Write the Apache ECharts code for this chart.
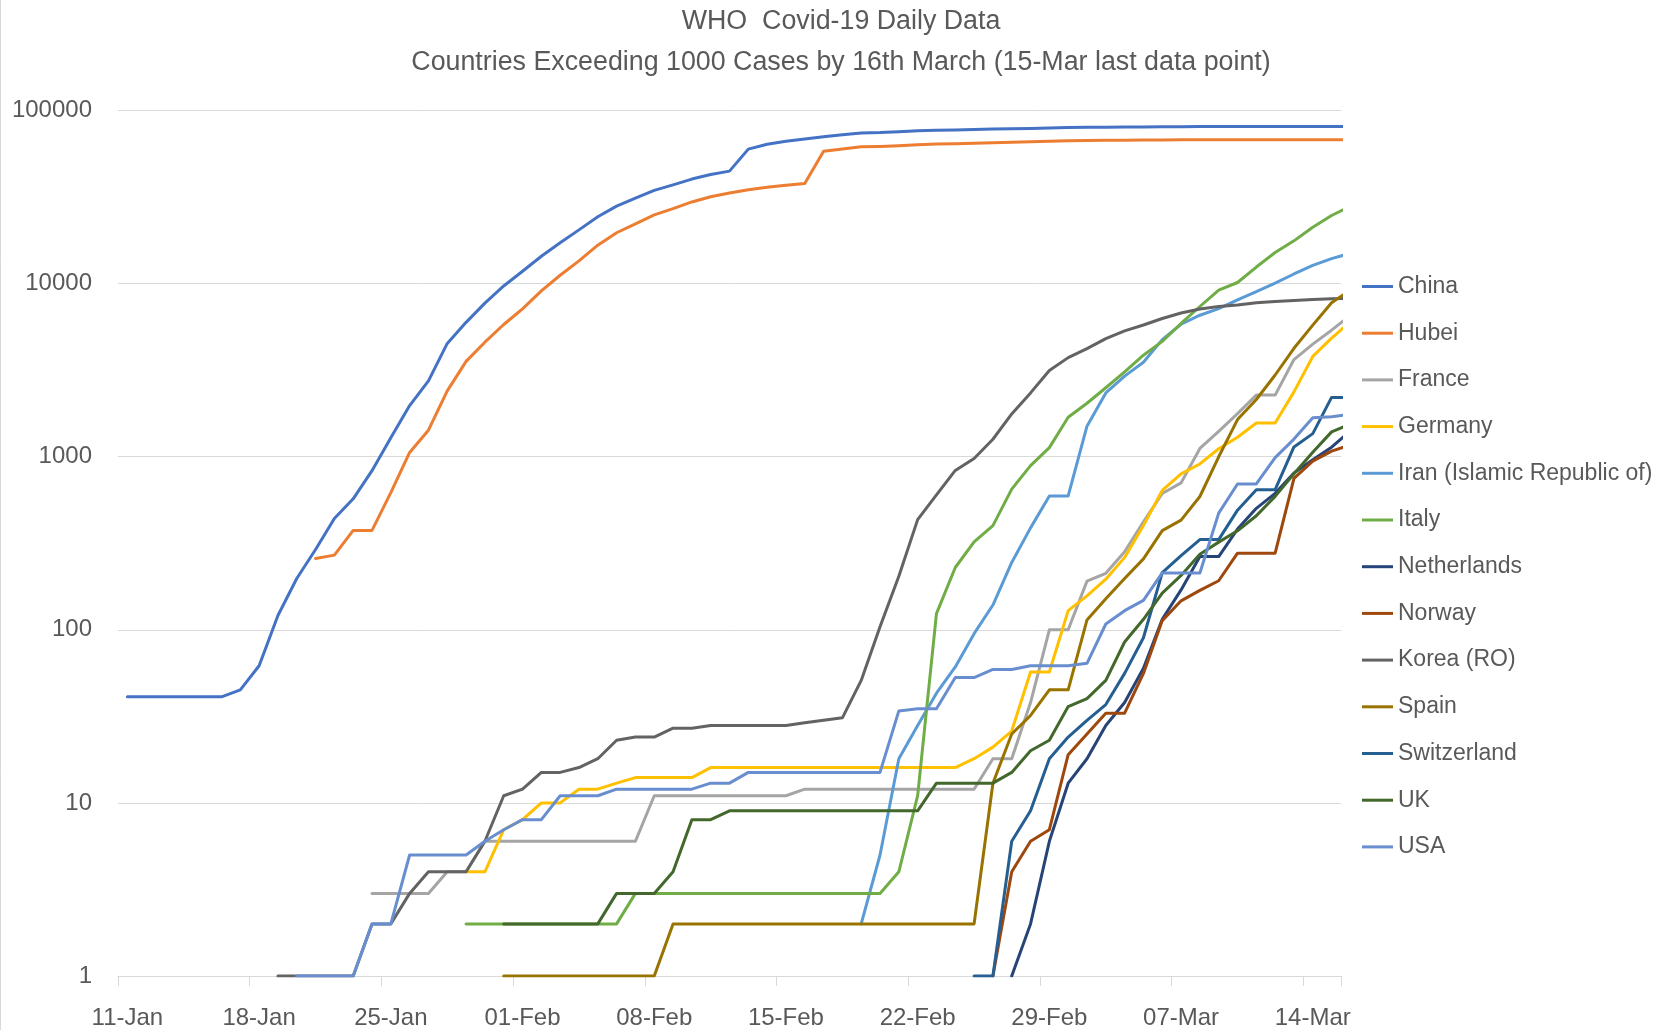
<!DOCTYPE html>
<html>
<head>
<meta charset="utf-8">
<script src="https://cdn.jsdelivr.net/npm/echarts@6/dist/echarts.min.js"></script>
<style>
html,body{margin:0;padding:0;background:#ffffff;}
#chart{width:1671px;height:1030px;}
</style>
</head>
<body>
<div id="chart"></div>
<script>
// ---- axis categories (one per day, 11-Jan .. 15-Mar 2020) ----
const categories = [
 '11-Jan','12-Jan','13-Jan','14-Jan','15-Jan','16-Jan','17-Jan','18-Jan','19-Jan','20-Jan',
 '21-Jan','22-Jan','23-Jan','24-Jan','25-Jan','26-Jan','27-Jan','28-Jan','29-Jan','30-Jan','31-Jan',
 '01-Feb','02-Feb','03-Feb','04-Feb','05-Feb','06-Feb','07-Feb','08-Feb','09-Feb','10-Feb',
 '11-Feb','12-Feb','13-Feb','14-Feb','15-Feb','16-Feb','17-Feb','18-Feb','19-Feb','20-Feb',
 '21-Feb','22-Feb','23-Feb','24-Feb','25-Feb','26-Feb','27-Feb','28-Feb','29-Feb',
 '01-Mar','02-Mar','03-Mar','04-Mar','05-Mar','06-Mar','07-Mar','08-Mar','09-Mar','10-Mar',
 '11-Mar','12-Mar','13-Mar','14-Mar','15-Mar'
];
// the series run one day past the axis end; that last segment is clipped at the plot edge
const dataDates = categories.concat(['16-Mar']);
const yTicks = [1, 10, 100, 1000, 10000, 100000];

// ---- series values (first value belongs to the given start date) ----
const chinaStart = '11-Jan';
const china = [41,41,41,41,41,41,45,62,121,198,291,440,571,830,1287,1975,2744,4515,5974,7711,9692,
 11791,14380,17205,20438,24324,28018,31161,34546,37198,40171,42638,44653,59804,63851,66492,68500,70548,
 72436,74185,74576,75465,76288,76936,77150,77658,78064,78497,78824,79251,
 79824,80026,80151,80270,80409,80552,80651,80695,80735,80754,80778,80793,80813,80824,80844,80860];

const hubeiStart = '21-Jan';
const hubei = [258,270,375,375,620,1058,1423,2400,3554,4586,5806,7153,9074,11177,13522,16678,19665,
 22112,24953,27100,29631,31728,33366,34874,35991,37001,37914,58182,59989,61682,62031,62662,63454,64084,
 64287,64786,65187,65596,65914,66337,66907,67103,67217,67332,67466,67592,67666,67707,67743,67760,67773,
 67781,67786,67790,67794,67798];

const franceStart = '24-Jan';
const france = [3,3,3,3,4,4,6,6,6,6,6,6,6,6,6,11,11,11,11,11,11,11,11,12,12,12,12,12,12,12,12,12,12,
 18,18,38,100,100,191,212,282,420,613,706,1116,1402,1774,2269,2269,3640,4469,5380,6573];

const germanyStart = '29-Jan';
const germany = [4,4,7,8,10,10,12,12,13,14,14,14,14,16,16,16,16,16,16,16,16,16,16,16,16,16,16,
 18,21,26,57,57,129,157,196,262,400,639,795,908,1112,1296,1567,1567,2369,3795,4838,6012];

const iranStart = '19-Feb';
const iran = [2,5,18,28,43,61,95,139,245,388,593,593,1501,2336,2922,3513,4747,5823,6566,7161,8042,
 9000,10075,11364,12729,13938,14991];

const italyStart = '29-Jan';
const italy = [2,2,2,2,2,2,2,2,2,3,3,3,3,3,3,3,3,3,3,3,3,3,3,4,11,124,229,322,400,650,888,1128,
 1689,2036,2502,3089,3858,4636,5883,7375,9172,10149,12462,15113,17660,21157,24747,27980];

const netherlandsStart = '27-Feb';
const netherlands = [1,2,6,13,18,28,38,60,115,170,265,265,382,503,614,804,959,1135,1413];

const norwayStart = '26-Feb';
const norway = [1,4,6,7,19,25,33,33,56,113,147,169,192,277,277,277,750,942,1077,1169];

const koreaStart = '19-Jan';
const korea = [1,1,1,1,1,2,2,3,4,4,4,6,11,12,15,15,16,18,23,24,24,27,27,28,28,28,28,28,29,30,31,
 51,104,204,433,602,833,977,1261,1766,2337,3150,3736,4212,4812,5328,5766,6284,6767,7134,7382,7513,
 7755,7869,7979,8086,8162,8236];

const spainStart = '31-Jan';
const spain = [1,1,1,1,1,1,1,1,1,2,2,2,2,2,2,2,2,2,2,2,2,2,2,2,2,2,13,25,32,45,45,114,151,198,257,
 374,430,589,999,1639,2140,2965,4231,5753,7753,9191];

const switzerlandStart = '25-Feb';
const switzerland = [1,1,6,9,18,24,30,37,56,90,214,268,332,332,491,645,645,1139,1359,2200,2200];

const ukStart = '31-Jan';
const uk = [2,2,2,2,2,2,3,3,3,4,8,8,9,9,9,9,9,9,9,9,9,9,9,13,13,13,13,15,20,23,36,40,51,85,115,163,
 206,273,321,373,456,590,797,1061,1391,1543];

const usaStart = '20-Jan';
const usa = [1,1,1,1,2,2,5,5,5,5,6,7,8,8,11,11,11,12,12,12,12,12,13,13,15,15,15,15,15,15,15,15,
 34,35,35,53,53,59,59,62,62,62,64,108,129,148,213,213,213,472,696,696,987,1264,1678,1700,1760];

// ---- series table built from the arrays above ----
const seriesDefs = [
  ['China', chinaStart, china, '#4472C4'],
  ['Hubei', hubeiStart, hubei, '#ED7D31'],
  ['France', franceStart, france, '#A5A5A5'],
  ['Germany', germanyStart, germany, '#FFC000'],
  ['Iran (Islamic Republic of)', iranStart, iran, '#5B9BD5'],
  ['Italy', italyStart, italy, '#70AD47'],
  ['Netherlands', netherlandsStart, netherlands, '#264478'],
  ['Norway', norwayStart, norway, '#9E480E'],
  ['Korea (RO)', koreaStart, korea, '#636363'],
  ['Spain', spainStart, spain, '#997300'],
  ['Switzerland', switzerlandStart, switzerland, '#255E91'],
  ['UK', ukStart, uk, '#43682B'],
  ['USA', usaStart, usa, '#698ED0']
];

// pair each value with its day index on the axis
function toPoints(start, vals) {
  const i0 = dataDates.indexOf(start);
  return vals.map((v, k) => [i0 + k, v]);
}

const FONT = '"Liberation Sans", Arial, sans-serif';
const TXT = '#595959';
const GRIDC = '#d9d9d9';

const chart = echarts.init(document.getElementById('chart'), null, {renderer: 'canvas'});
chart.setOption({
  animation: false,
  backgroundColor: '#ffffff',
  textStyle: {fontFamily: FONT},
  graphic: [
    {type: 'text', x: 841, y: 22, style: {text: 'WHO  Covid-19 Daily Data', font: '26.8px ' + FONT, fill: TXT, align: 'center', verticalAlign: 'middle'}},
    {type: 'text', x: 841, y: 63, style: {text: 'Countries Exceeding 1000 Cases by 16th March (15-Mar last data point)', font: '26.8px ' + FONT, fill: TXT, align: 'center', verticalAlign: 'middle'}},
    {type: 'line', shape: {x1: 0.5, y1: 0, x2: 0.5, y2: 1030}, style: {stroke: GRIDC, lineWidth: 1}}
  ],
  legend: {
    orient: 'vertical',
    left: 1362,
    top: 274.5,
    padding: 0,
    icon: 'rect',
    itemWidth: 31,
    itemHeight: 3,
    itemGap: 22.7,
    textStyle: {fontSize: 23, color: TXT, fontFamily: FONT, lineHeight: 24},
    data: seriesDefs.map(d => d[0])
  },
  grid: {left: 118, right: 330, top: 110.5, bottom: 51, containLabel: false},
  xAxis: [
    {
      type: 'category',
      data: categories,
      boundaryGap: true,
      axisLine: {lineStyle: {color: GRIDC, width: 1}},
      axisTick: {show: true, interval: 6, length: 10, lineStyle: {color: GRIDC}},
      axisLabel: {interval: 6, fontSize: 24, color: TXT, margin: 30, fontFamily: FONT},
      splitLine: {show: false}
    },
    {
      type: 'value',
      min: -0.5,
      max: categories.length - 0.5,
      show: false
    }
  ],
  yAxis: {
    type: 'log',
    logBase: 10,
    min: yTicks[0],
    max: yTicks[yTicks.length - 1],
    axisLine: {show: false},
    axisTick: {show: false},
    splitLine: {show: true, lineStyle: {color: GRIDC, width: 1}},
    axisLabel: {fontSize: 24, color: TXT, margin: 26, fontFamily: FONT,
      formatter: v => String(Math.round(v))}
  },
  series: seriesDefs.map(d => ({
    name: d[0],
    type: 'line',
    xAxisIndex: 1,
    data: toPoints(d[1], d[2]),
    color: d[3],
    symbol: 'none',
    showSymbol: false,
    clip: true,
    lineStyle: {width: 3, color: d[3], cap: 'round', join: 'round'},
    emphasis: {disabled: true}
  }))
});
</script>
</body>
</html>
